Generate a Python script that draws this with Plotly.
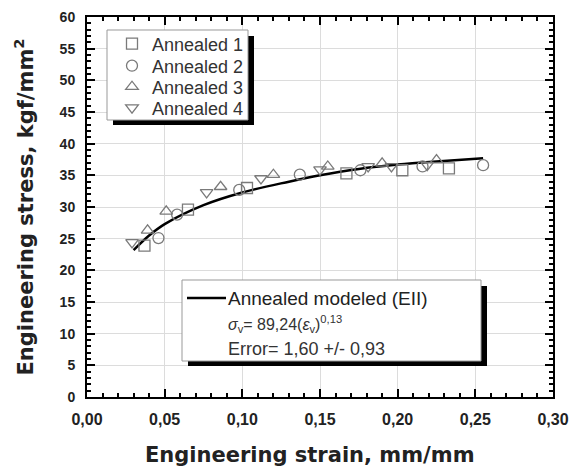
import plotly.graph_objects as go

# ---- data ----
a1_x = [0.037, 0.065, 0.103, 0.167, 0.203, 0.233]
a1_y = [23.9, 29.6, 33.0, 35.3, 35.8, 36.1]
a2_x = [0.046, 0.058, 0.098, 0.137, 0.176, 0.216, 0.255]
a2_y = [25.1, 28.8, 32.7, 35.1, 35.8, 36.4, 36.6]
a3_x = [0.039, 0.051, 0.086, 0.120, 0.155, 0.190, 0.225]
a3_y = [26.3, 29.3, 33.2, 35.1, 36.4, 36.9, 37.4]
a4_x = [0.029, 0.077, 0.112, 0.150, 0.181, 0.196, 0.219]
a4_y = [24.4, 32.3, 34.5, 35.9, 36.4, 36.4, 36.6]
model_x = [0.030, 0.040, 0.050, 0.075, 0.100, 0.130, 0.150, 0.175, 0.200, 0.225, 0.255]
model_y = [23.2, 25.5, 27.3, 30.3, 32.3, 34.0, 35.0, 36.0, 36.7, 37.2, 37.7]

series = [
    ("Annealed 1", a1_x, a1_y, "square-open", "legend", 44),
    ("Annealed 2", a2_x, a2_y, "circle-open", "legend3", 66),
    ("Annealed 3", a3_x, a3_y, "triangle-up-open", "legend4", 87),
    ("Annealed 4", a4_x, a4_y, "triangle-down-open", "legend5", 108),
]
model_name = "Annealed modeled (EII)"
formula_text = "<i>σ</i><sub>v</sub>= 89,24(<i>ε</i><sub>v</sub>)<sup>0,13</sup>"
error_text = "Error= 1,60 +/- 0,93"
x_title = "Engineering strain, mm/mm"
y_title = "Engineering stress, kgf/mm<sup>2</sup>"

FONT = "Liberation Sans, Arial, sans-serif"
TFONT = "DejaVu Sans, sans-serif"
W, H = 574, 468
L, R, T, B = 87, 21, 17, 71
PW, PH = W - L - R, H - T - B

def px(x):
    return (x - L) / PW

def py(y):
    return (H - B - y) / PH

fig = go.Figure()
fig.add_trace(go.Scatter(x=model_x, y=model_y, mode="lines", name=model_name,
                         line=dict(color="black", width=2.5, shape="spline"),
                         showlegend=False))
legends = {}
for name, xs, ys, sym, lg, rowy in series:
    fig.add_trace(go.Scatter(x=xs, y=ys, mode="markers", name=name,
                             marker=dict(symbol=sym, size=11, color="#7a7a7a",
                                         line=dict(width=1.3, color="#7a7a7a")),
                             legend=lg))
    legends[lg] = dict(x=px(112), y=py(rowy), xanchor="left", yanchor="middle",
                       bgcolor="rgba(0,0,0,0)", borderwidth=0,
                       font=dict(family=FONT, size=18, color="#333"))

shapes = []
def box(x0, y0, x1, y1, off=6):
    shapes.append(dict(type="rect", xref="paper", yref="paper", layer="above",
                       x0=px(x0 + off), x1=px(x1 + off), y0=py(y1 + off - 1), y1=py(y0 + off),
                       fillcolor="black", line=dict(width=0)))
    shapes.append(dict(type="rect", xref="paper", yref="paper", layer="above",
                       x0=px(x0), x1=px(x1), y0=py(y1), y1=py(y0),
                       fillcolor="white", line=dict(width=1, color="#999999")))

box(107, 30, 248, 120)
box(182, 280, 481, 361)
# line sample of the model legend entry
shapes.append(dict(type="line", xref="paper", yref="paper", layer="above",
                   x0=px(187), x1=px(226), y0=py(298), y1=py(298),
                   line=dict(color="black", width=2.5)))

axis_common = dict(
    showline=True, linecolor="black", linewidth=2, mirror="allticks",
    ticks="inside", ticklen=8, tickwidth=1.5, tickcolor="black",
    showgrid=True, gridcolor="#dcdcdc", gridwidth=1, zeroline=False,
    automargin=False,
)

fig.update_layout(
    width=W, height=H, margin=dict(l=L, r=R, t=T, b=B),
    paper_bgcolor="white", plot_bgcolor="white",
    separators=",.",
    font=dict(family=FONT, color="#222"),
    shapes=shapes,
    xaxis=dict(range=[0, 0.30], dtick=0.05, tickformat=".2f",
               minor=dict(dtick=0.01, ticks="inside", ticklen=4, tickcolor="black", showgrid=False),
               tickfont=dict(family=FONT, size=16, color="#222", weight="bold"),
               ticklabelstandoff=7, **axis_common),
    yaxis=dict(range=[0, 60], dtick=5,
               minor=dict(dtick=1, ticks="inside", ticklen=4, tickcolor="black", showgrid=False),
               tickfont=dict(family=FONT, size=14, color="#222", weight="bold"),
               title=dict(text=y_title, standoff=20,
                          font=dict(family=TFONT, size=21, color="#222", weight="bold")),
               ticklabelstandoff=7, **axis_common),
    annotations=[
        dict(xref="paper", yref="paper", x=px(310), y=py(455), xanchor="center", yanchor="middle",
             text=f"<b>{x_title}</b>", showarrow=False,
             font=dict(family=TFONT, size=21, color="#222")),
        dict(xref="paper", yref="paper", x=px(226), y=py(298), xanchor="left", yanchor="middle",
             text=model_name, showarrow=False, font=dict(family=FONT, size=19, color="#222")),
        dict(xref="paper", yref="paper", x=px(226), y=py(324), xanchor="left", yanchor="middle",
             text=formula_text, showarrow=False, font=dict(family=FONT, size=16, color="#333")),
        dict(xref="paper", yref="paper", x=px(226), y=py(349), xanchor="left", yanchor="middle",
             text=error_text, showarrow=False, font=dict(family=FONT, size=18, color="#333")),
    ],
    **legends,
)

fig.write_html("out.html")
